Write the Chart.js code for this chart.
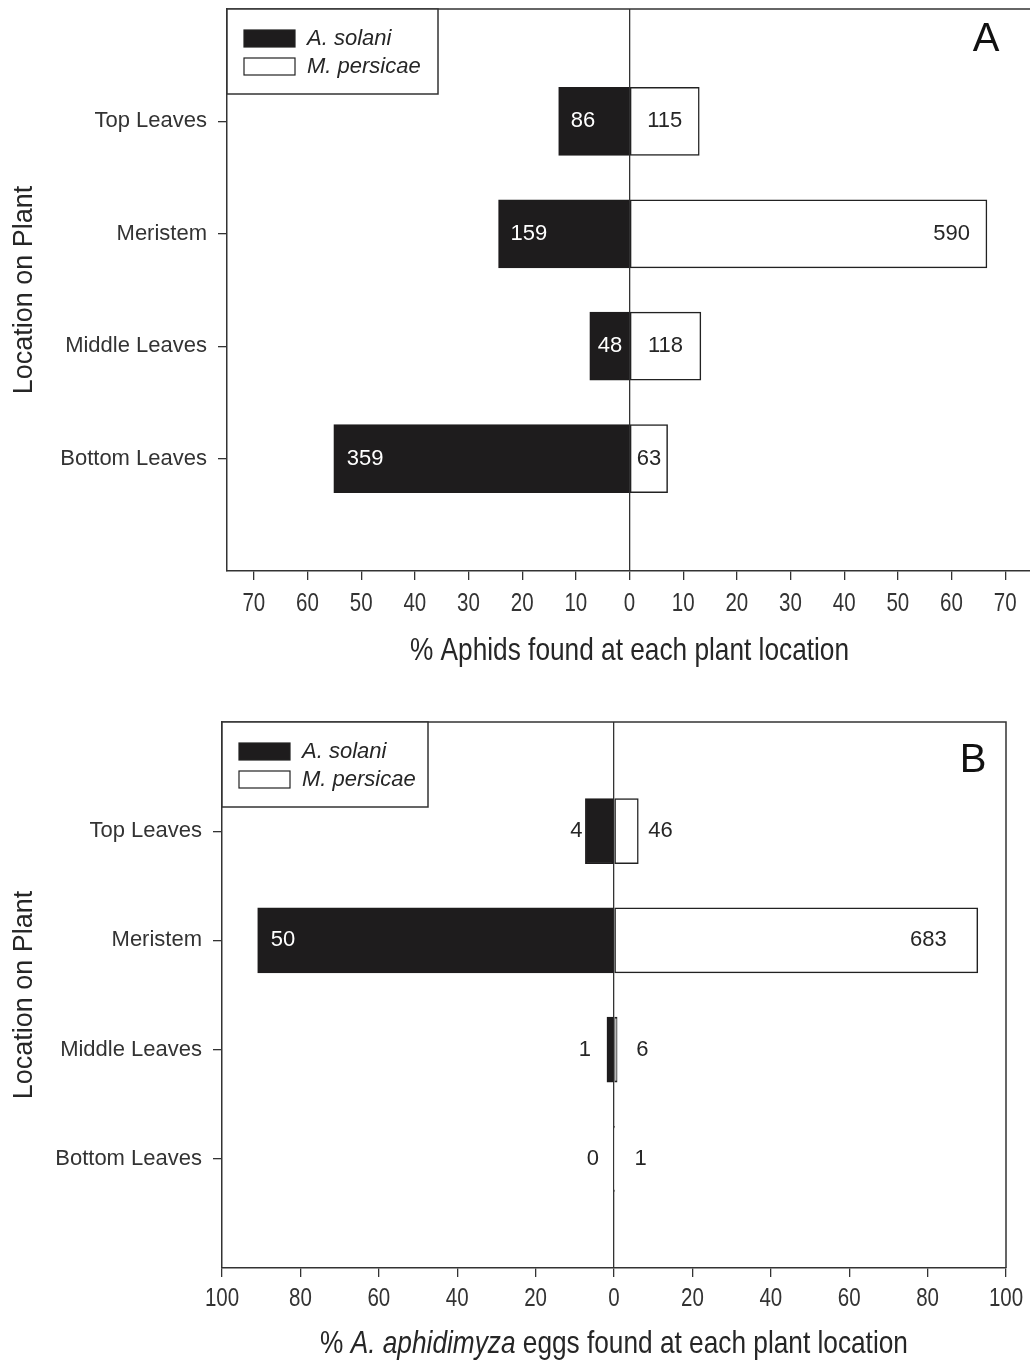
<!DOCTYPE html>
<html>
<head>
<meta charset="utf-8">
<script src="https://cdn.jsdelivr.net/npm/chart.js@4.4.1/dist/chart.umd.min.js"></script>
<style>
  html, body { margin: 0; padding: 0; background: #fff; }
  .panel { position: absolute; left: 0; width: 1030px; overflow: hidden; }
</style>
</head>
<body>
<div class="panel" style="top:0;height:700px"><canvas id="chartA" width="1045" height="700"></canvas></div>
<div class="panel" style="top:700px;height:661px"><canvas id="chartB" width="1030" height="661"></canvas></div>
<script>
// plant locations, top to bottom
var categories = ['Top Leaves', 'Meristem', 'Middle Leaves', 'Bottom Leaves'];
var seriesNames = ['A. solani', 'M. persicae'];

// panel A: % aphids at each location, with counts written on the bars
var solaniPctA = [13.2, 24.4, 7.4, 55.1];
var persicaePctA = [13.0, 66.6, 13.3, 7.1];
var solaniCountA = [86, 159, 48, 359];
var persicaeCountA = [115, 590, 118, 63];
var ticksA = [-70, -60, -50, -40, -30, -20, -10, 0, 10, 20, 30, 40, 50, 60, 70];

// panel B: % A. aphidimyza eggs at each location
var solaniPctB = [7.3, 90.9, 1.8, 0];
var persicaePctB = [6.2, 92.8, 0.8, 0.14];
var solaniCountB = [4, 50, 1, 0];
var persicaeCountB = [46, 683, 6, 1];
var ticksB = [-100, -80, -60, -40, -20, 0, 20, 40, 60, 80, 100];

// how each count label sits: in = inside near bar end, out = past bar end, mid = centred
var labelsA = [
  [['in', 12], ['in', 12], ['in', 8], ['in', 13]],
  [['mid', 0], ['in', 17], ['mid', 0], ['mid', 0]]
];
var labelsB = [
  [['out', 3], ['in', 13], ['out', 16], ['out', 15]],
  [['out', 10], ['in', 31], ['out', 19], ['out', 20]]
];

var TXT = '#262626';
var SANS = '"Liberation Sans", Arial, sans-serif';
var SQUEEZE = 0.82; // x-axis text is set in a narrow face

// empty slot above and below so categories sit one step from the frame
var rows = [''].concat(categories).concat(['']);
function pad(arr) { return [null].concat(arr).concat([null]); }

var figurePlugin = {
  id: 'figure',
  afterDatasetsDraw: function(chart, args, o) {
    var ctx = chart.ctx;
    ctx.save();
    ctx.font = '22px ' + SANS;
    ctx.textBaseline = 'middle';
    chart.data.datasets.forEach(function(ds, di) {
      var meta = chart.getDatasetMeta(di);
      meta.data.forEach(function(el, i) {
        var k = i - 1;
        if (k < 0 || k >= categories.length) return;
        var mode = o.labels[di][k][0], gap = o.labels[di][k][1];
        var neg = di === 0;
        var x, align, color = TXT;
        if (mode === 'mid') { x = (el.x + el.base) / 2; align = 'center'; }
        else if (mode === 'in') {
          x = neg ? el.x + gap : el.x - gap; align = neg ? 'left' : 'right';
          if (neg) color = '#ffffff';
        } else {
          x = neg ? el.x - gap : el.x + gap; align = neg ? 'right' : 'left';
        }
        ctx.fillStyle = color;
        ctx.textAlign = align;
        ctx.fillText(String(o.counts[di][k]), x, el.y);
      });
    });
    ctx.restore();
  },
  afterDraw: function(chart, args, o) {
    var ctx = chart.ctx, a = chart.chartArea;
    ctx.save();
    // frame: top line, and right line where it is visible
    ctx.strokeStyle = '#333';
    ctx.lineWidth = 1.5;
    ctx.beginPath();
    ctx.moveTo(a.left, a.top);
    ctx.lineTo(a.right, a.top);
    if (o.rightBorder) ctx.lineTo(a.right, a.bottom);
    ctx.stroke();

    // legend box in the top-left corner
    var lx = a.left, ly = a.top;
    ctx.fillStyle = '#fff';
    ctx.fillRect(lx, ly, o.legendW, 85);
    ctx.strokeRect(lx, ly, o.legendW, 85);
    var fills = ['#1e1c1d', '#ffffff'];
    ctx.font = 'italic 22px ' + SANS;
    ctx.textBaseline = 'middle';
    ctx.textAlign = 'left';
    for (var r = 0; r < 2; r++) {
      var cy = ly + 29 + r * 28;
      ctx.fillStyle = fills[r];
      ctx.fillRect(lx + 17, cy - 8, 51, 17);
      ctx.lineWidth = 1.2;
      ctx.strokeStyle = '#222';
      ctx.strokeRect(lx + 17, cy - 8, 51, 17);
      ctx.fillStyle = TXT;
      ctx.fillText(seriesNames[r], lx + 80, cy + 1);
    }

    // panel letter
    ctx.font = '40px ' + SANS;
    ctx.textAlign = 'center';
    ctx.textBaseline = 'alphabetic';
    ctx.fillStyle = '#111';
    ctx.fillText(o.letter, o.letterX, o.letterY);

    // y title
    ctx.font = '27px ' + SANS;
    ctx.fillStyle = TXT;
    ctx.textBaseline = 'middle';
    ctx.translate(25, (a.top + a.bottom) / 2);
    ctx.rotate(-Math.PI / 2);
    ctx.fillText('Location on Plant', 0, 0);
    ctx.setTransform(1, 0, 0, 1, 0, 0);

    // x tick labels (narrow)
    var xs = chart.scales.x;
    ctx.font = '25px ' + SANS;
    ctx.fillStyle = '#333';
    ctx.textAlign = 'center';
    xs.ticks.forEach(function(t) {
      ctx.save();
      ctx.translate(xs.getPixelForValue(t.value), a.bottom + o.tickLabelGap);
      ctx.scale(SQUEEZE, 1);
      ctx.fillText(String(Math.abs(t.value)), 0, 0);
      ctx.restore();
    });

    // x title, with italic pieces (narrow)
    var w = 0;
    o.xTitle.forEach(function(p) {
      ctx.font = (p[1] ? 'italic ' : '') + '32px ' + SANS;
      w += ctx.measureText(p[0]).width;
    });
    ctx.fillStyle = TXT;
    ctx.translate((a.left + a.right) / 2, a.bottom + o.titleGap);
    ctx.scale(SQUEEZE, 1);
    var x = -w / 2;
    ctx.textAlign = 'left';
    o.xTitle.forEach(function(p) {
      ctx.font = (p[1] ? 'italic ' : '') + '32px ' + SANS;
      ctx.fillText(p[0], x, 0);
      x += ctx.measureText(p[0]).width;
    });
    ctx.restore();
  }
};

function makeChart(id, solani, persicae, opts) {
  return new Chart(document.getElementById(id), {
    type: 'bar',
    data: {
      labels: rows,
      datasets: [
        { label: seriesNames[0], data: pad(solani.map(function(v) { return -v; })),
          backgroundColor: '#1e1c1d', borderColor: '#1e1c1d', borderWidth: 1.2,
          borderSkipped: false, barThickness: opts.barThickness },
        { label: seriesNames[1], data: pad(persicae),
          backgroundColor: '#ffffff', borderColor: '#222', borderWidth: 1.5,
          borderSkipped: false, barThickness: opts.barThickness }
      ]
    },
    options: {
      indexAxis: 'y',
      responsive: false,
      animation: false,
      devicePixelRatio: 1,
      layout: { padding: opts.padding },
      plugins: {
        legend: { display: false },
        tooltip: { enabled: false },
        figure: opts.figure
      },
      scales: {
        x: {
          stacked: true,
          min: -opts.range, max: opts.range,
          afterBuildTicks: function(s) { s.ticks = opts.ticks.map(function(v) { return { value: v }; }); },
          afterFit: function(s) { s.height = opts.xHeight; s.paddingLeft = 0; s.paddingRight = 0; },
          ticks: { display: false },
          grid: {
            drawOnChartArea: true, drawTicks: true, tickLength: 9, tickColor: '#333', lineWidth: 1.3,
            color: function(c) { return c.tick && c.tick.value === 0 ? '#333' : 'rgba(0,0,0,0)'; }
          },
          border: { display: true, color: '#333', width: 1.5 }
        },
        y: {
          stacked: true,
          offset: false,
          afterFit: function(s) { s.width = opts.yWidth; s.paddingTop = 0; s.paddingBottom = 0; },
          ticks: { padding: 11, color: '#333', autoSkip: false, font: { family: SANS, size: 22 } },
          grid: {
            offset: false, drawOnChartArea: false, tickLength: 9, lineWidth: 1.3,
            tickColor: function(c) { return (c.index === 0 || c.index === rows.length - 1) ? 'rgba(0,0,0,0)' : '#333'; }
          },
          border: { display: true, color: '#333', width: 1.5 }
        }
      }
    },
    plugins: [figurePlugin]
  });
}

makeChart('chartA', solaniPctA, persicaePctA, {
  range: 75, ticks: ticksA, barThickness: 68,
  padding: { top: 9, right: 13, left: 0, bottom: 0 },
  xHeight: 129, yWidth: 227,
  figure: {
    counts: [solaniCountA, persicaeCountA], labels: labelsA,
    legendW: 211, rightBorder: false,
    letter: 'A', letterX: 986, letterY: 51,
    tickLabelGap: 33, titleGap: 80,
    xTitle: [['% Aphids found at each plant location', false]]
  }
});

makeChart('chartB', solaniPctB, persicaePctB, {
  range: 100, ticks: ticksB, barThickness: 65,
  padding: { top: 22, right: 24, left: 0, bottom: 0 },
  xHeight: 93, yWidth: 222,
  figure: {
    counts: [solaniCountB, persicaeCountB], labels: labelsB,
    legendW: 206, rightBorder: true,
    letter: 'B', letterX: 973, letterY: 72,
    tickLabelGap: 31, titleGap: 76,
    xTitle: [['% ', false], ['A. aphidimyza', true], [' eggs found at each plant location', false]]
  }
});
</script>
</body>
</html>
